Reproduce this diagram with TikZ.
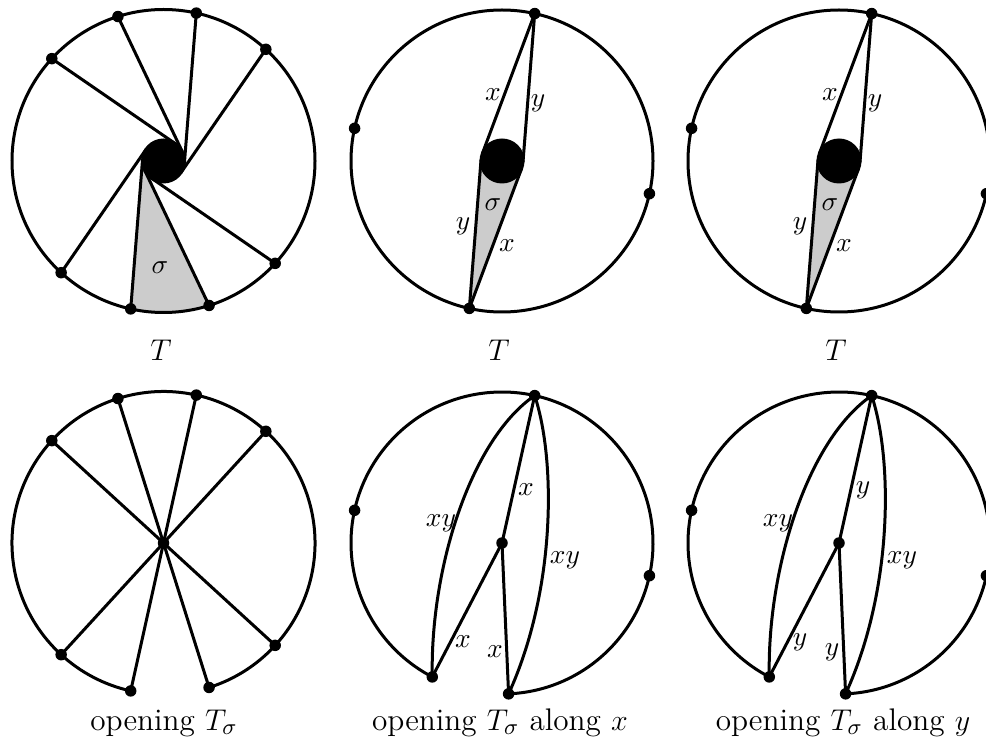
\documentclass[tikz,border=0pt]{standalone}
\begin{document}
\begin{tikzpicture}[x=0.4pt,y=0.4pt,line width=1.2pt,
  dot/.style={circle,fill=black,inner sep=0pt,minimum size=4.6pt},
  lbl/.style={inner sep=0pt,font=\fontsize{10.7}{13}\selectfont},
  captxt/.style={inner sep=0pt,anchor=base,font=\fontsize{12.5}{15}\selectfont},
  sgray/.style={fill=black!20}]
\useasboundingbox (0,0) rectangle (986,-745);

% ---------- Panel A (top left) ----------
\begin{scope}[shift={(163.5,-161)}]
\coordinate (Ac) at (0,0);
\foreach \a [count=\i] in {47.5,77.5,107.5,137.5,227.5,257.5,287.5,317.5}{
  \coordinate (A\i) at (\a:151.5);
  \coordinate (At\i) at ({\a-81.6}:21);
}
\fill[sgray] (At6) -- (A6) arc[start angle=257.5,end angle=287.5,radius=151.5] -- (At7) -- (Ac) -- cycle;
\draw (Ac) circle[radius=151.5];
\foreach \i in {1,...,8} \draw (A\i) -- (At\i);
\fill (Ac) circle[radius=22.5];
\foreach \i in {1,...,8} \node[dot] (dA\i) at (A\i) {};
\node[lbl] (sA) at (-3.5,-107) {$\sigma$};
\end{scope}

% ---------- Panels B, C (top middle, top right) ----------
\foreach \p/\cx in {B/502,C/839}{
\begin{scope}[shift={(\cx,-161)}]
\coordinate (\p c) at (0,0);
\coordinate (\p1) at (77.5:151);
\coordinate (\p2) at (167.5:151);
\coordinate (\p3) at (257.5:151);
\coordinate (\p4) at (347.5:151);
\coordinate (\p x1) at (159.1:21);
\coordinate (\p y1) at (-4.1:21);
\coordinate (\p y2) at (175.9:21);
\coordinate (\p x2) at (339.1:21);
\fill[sgray] (\p3) -- (\p y2) -- (\p c) -- (\p x2) -- cycle;
\draw (\p c) circle[radius=151];
\draw (\p1) -- (\p x1);
\draw (\p1) -- (\p y1);
\draw (\p3) -- (\p y2);
\draw (\p3) -- (\p x2);
\fill (\p c) circle[radius=22.5];
\foreach \i in {1,...,4} \node[dot] (d\p\i) at (\p\i) {};
\node[lbl] (l\p1) at (-9,66) {$x$};
\node[lbl] (l\p2) at (36,58) {$y$};
\node[lbl] (l\p3) at (-9,-44) {$\sigma$};
\node[lbl] (l\p4) at (-39,-65) {$y$};
\node[lbl] (l\p5) at (5,-85) {$x$};
\end{scope}}

% ---------- Panel D (bottom left) ----------
\begin{scope}[shift={(163.5,-543)}]
\coordinate (Dc) at (0,0);
\foreach \a [count=\i] in {47.5,77.5,107.5,137.5,227.5,257.5,287.5,317.5}{
  \coordinate (D\i) at (\a:151.5);
}
\draw (D7) arc[start angle=287.5,end angle=617.5,radius=151.5];
\foreach \i in {1,...,8} \draw (Dc) -- (D\i);
\foreach \i in {1,...,8} \node[dot] (dD\i) at (D\i) {};
\node[dot] (dDc) at (Dc) {};
\end{scope}

% ---------- Panels E, F (bottom middle, bottom right) ----------
\foreach \p/\cx/\v in {E/502/x,F/839/y}{
\begin{scope}[shift={(\cx,-543)}]
\coordinate (\p c) at (0,0);
\coordinate (\p1) at (77.5:151);
\coordinate (\p2) at (167.5:151);
\coordinate (\p3) at (347.5:151);
\coordinate (\p4) at (242.5:151);
\coordinate (\p5) at (272.5:151);
\draw (\p5) arc[start angle=272.5,end angle=602.5,radius=151];
\draw (\p1) -- (\p c);
\draw (\p c) -- (\p4);
\draw (\p c) -- (\p5);
\draw (\p1) .. controls (-32,103) and (-72,-27) .. (\p4);
\draw (\p1) .. controls (54,83) and (54,-47) .. (\p5);
\foreach \i in {1,...,5} \node[dot] (d\p\i) at (\p\i) {};
\node[dot] (d\p c) at (\p c) {};
\node[lbl] (l\p1) at (24,53) {$\v$};
\node[lbl] (l\p2) at (-61,20) {$xy$};
\node[lbl] (l\p3) at (63,-17) {$xy$};
\node[lbl] (l\p4) at (-39,-99) {$\v$};
\node[lbl] (l\p5) at (-7,-109) {$\v$};
\end{scope}}

% ---------- captions ----------
\node[captxt] (capA) at (161,-361) {$T$};
\node[captxt] (capB) at (499,-361) {$T$};
\node[captxt] (capC) at (836,-361) {$T$};
\node[captxt] (capD) at (164,-730) {opening $T_\sigma$};
\node[captxt] (capE) at (500,-730) {opening $T_\sigma$ along $x$};
\node[captxt] (capF) at (843,-730) {opening $T_\sigma$ along $y$};
\end{tikzpicture}
\end{document}
